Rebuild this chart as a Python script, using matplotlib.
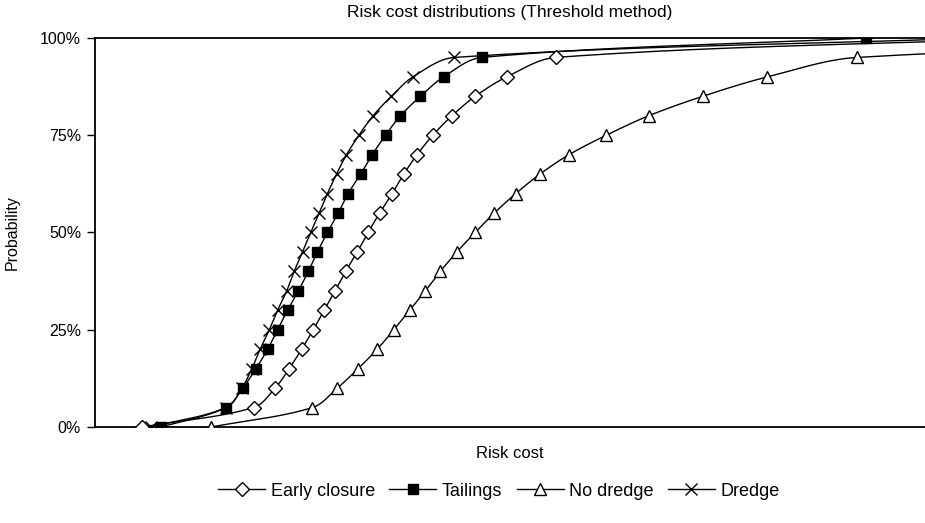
import numpy as np
import matplotlib
matplotlib.use("Agg")
import matplotlib.pyplot as plt
from matplotlib.ticker import FixedLocator, NullLocator

plt.rcParams['font.family'] = ['Liberation Sans', 'DejaVu Sans']

# Probability levels (%)
prob = [0, 5, 10, 15, 20, 25, 30, 35, 40, 45, 50, 55, 60, 65, 70, 75, 80, 85, 90, 95, 100]

# Risk cost (arbitrary units) at each probability level
early_closure = [5.7, 19.1, 21.7, 23.4, 24.9, 26.3, 27.6, 28.9, 30.2, 31.6, 32.9,
                 34.3, 35.8, 37.2, 38.8, 40.7, 43.0, 45.8, 49.6, 55.5, 113.3]
tailings = [8.0, 15.8, 17.8, 19.4, 20.8, 22.0, 23.2, 24.5, 25.7, 26.8, 28.0,
            29.3, 30.5, 32.0, 33.4, 35.0, 36.8, 39.2, 42.0, 46.6, 92.9]
no_dredge = [14.0, 26.2, 29.2, 31.7, 34.0, 36.0, 37.9, 39.8, 41.6, 43.6, 45.8,
             48.1, 50.7, 53.6, 57.1, 61.6, 66.7, 73.2, 81.0, 91.8, 160.1]
dredge = [6.7, 15.8, 17.7, 18.9, 19.9, 21.0, 22.0, 23.1, 24.0, 25.0, 26.0,
          27.0, 28.0, 29.1, 30.3, 31.8, 33.5, 35.7, 38.3, 43.3, 106.3]

series_names = ["Early closure", "Tailings", "No dredge", "Dredge"]
yticks = [0, 25, 50, 75, 100]
ytick_labels = ["0%", "25%", "50%", "75%", "100%"]

W, H = 925, 523
fig = plt.figure(figsize=(W / 100, H / 100), dpi=100)
ax = fig.add_axes([95 / W, (H - 427) / H, (925 - 95) / W, (427 - 38) / H])
ax.set_xlim(0, 100)
ax.set_ylim(0, 100)


def smooth(xs, ys, sx, sy, n=40):
    # Smoothed line (chord-scaled Bezier), computed in screen-proportional space
    P = np.column_stack([np.asarray(xs, float) * sx, np.asarray(ys, float) * sy])
    m = len(P)
    tang = []
    for i in range(m):
        a = P[i - 1] if i > 0 else P[i]
        b = P[i + 1] if i + 1 < m else P[i]
        d = b - a
        nd = np.hypot(*d)
        tang.append(d / nd if nd > 0 else d)
    out = [P[0]]
    for i in range(m - 1):
        p1, p2 = P[i], P[i + 1]
        L = np.hypot(*(p2 - p1))
        c1 = p1 + tang[i] * L / 3.0
        c2 = p2 - tang[i + 1] * L / 3.0
        t = np.linspace(0, 1, n)[1:, None]
        seg = ((1 - t) ** 3) * p1 + 3 * ((1 - t) ** 2) * t * c1 + 3 * (1 - t) * t ** 2 * c2 + t ** 3 * p2
        out.extend(seg)
    out = np.array(out)
    return out[:, 0] / sx, out[:, 1] / sy


sx, sy = 8.3, 3.89
styles = {
    "Early closure": dict(marker="D", ms=7, mfc="white", mec="black", mew=1.0),
    "Tailings": dict(marker="s", ms=7.5, mfc="black", mec="black", mew=1.0),
    "No dredge": dict(marker="^", ms=9, mfc="white", mec="black", mew=1.0),
    "Dredge": dict(marker="x", ms=8, mfc="black", mec="black", mew=1.0),
}
data = {"Early closure": early_closure, "Tailings": tailings,
        "No dredge": no_dredge, "Dredge": dredge}

handles = []
for name in series_names:
    xs = data[name]
    lx, ly = smooth(xs, prob, sx, sy)
    ax.plot(lx, ly, color="black", lw=1.0, zorder=2, clip_on=True)
    ax.plot(xs, prob, linestyle="none", zorder=3, clip_on=True, **styles[name])
    h, = ax.plot([], [], color="black", lw=1.0, **styles[name])
    handles.append(h)

ax.yaxis.set_major_locator(FixedLocator(yticks))
ax.set_yticklabels(ytick_labels, fontsize=11.5)
ax.xaxis.set_major_locator(NullLocator())
ax.tick_params(axis="y", direction="out", length=6, width=1.0, pad=4)
for s in ["left", "bottom", "top"]:
    ax.spines[s].set_linewidth(1.3)
    ax.spines[s].set_color("black")
ax.spines["right"].set_visible(False)

ax.set_ylabel("Probability", fontsize=11.5)
ax.yaxis.set_label_coords(-(95 - 20) / 830, 0.5)
ax.set_xlabel("Risk cost", fontsize=12)
ax.xaxis.set_label_coords((510 - 95) / 830, -(446 - 427) / 389)

fig.text(510 / W, 1 - 13 / H, "Risk cost distributions (Threshold method)",
         ha="center", va="center", fontsize=12.5)

leg = fig.legend(handles, series_names, loc="center", bbox_to_anchor=(499 / W, 1 - 491 / H),
                 ncol=4, frameon=False, fontsize=13, handlelength=2.6,
                 handletextpad=0.3, columnspacing=0.8, borderaxespad=0)

fig.savefig("out.png", dpi=100)
